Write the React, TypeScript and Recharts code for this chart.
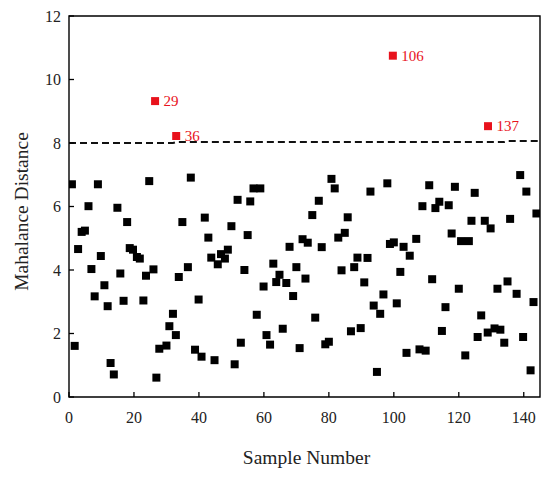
import { ScatterChart, Scatter, XAxis, YAxis, ZAxis, ReferenceArea, LabelList } from "recharts";

const FONT = "'Liberation Serif', 'Times New Roman', serif";

// sample positions and Mahalanobis distances
const sampleX = [
  0.9, 1.75, 2.8, 3.9, 4.9, 6.0, 6.9, 7.9, 8.9, 9.8, 10.9, 11.9, 12.8, 13.8, 14.9, 15.8,
  16.8, 17.9, 18.7, 19.7, 20.9, 21.8, 22.9, 23.7, 24.7, 26.0, 26.9, 27.8, 30.0, 30.9, 32.0,
  32.9, 33.8, 34.9, 36.6, 37.5, 38.8, 39.9, 40.8, 41.8, 42.9, 43.8, 44.8, 45.8, 46.8, 48.0,
  48.9, 50.0, 51.0, 51.9, 52.9, 54.0, 55.0, 55.8, 56.8, 57.8, 58.9, 59.9, 60.8, 61.9, 62.9,
  63.8, 64.8, 65.8, 66.9, 67.9, 69.0, 70.0, 71.0, 71.9, 72.8, 73.5, 74.9, 75.8, 76.9, 77.8,
  78.9, 80.0, 80.8, 81.8, 82.9, 83.9, 84.9, 85.8, 86.8, 87.8, 88.8, 89.8, 90.9, 91.9, 92.8,
  93.8, 94.8, 95.8, 96.8, 98.0, 98.8, 100.0, 100.9, 102.0, 103.0, 103.9, 104.9, 106.9, 107.9,
  108.8, 109.8, 110.9, 111.8, 112.8, 114.0, 114.8, 115.9, 116.9, 117.8, 118.8, 120.0, 120.7,
  122.0, 123.1, 123.9, 124.9, 125.8, 126.9, 128.0, 128.9, 129.8, 131.0, 131.9, 132.8, 134.0,
  135.0, 135.8, 137.8, 138.9, 139.8, 140.8, 142.1, 143.0, 143.9,
];
const distance = [
  6.7, 1.61, 4.66, 5.2, 5.24, 6.01, 4.03, 3.17, 6.7, 4.44, 3.52, 2.86, 1.07, 0.71, 5.96, 3.89,
  3.03, 5.51, 4.69, 4.64, 4.41, 4.36, 3.04, 3.82, 6.8, 4.02, 0.61, 1.52, 1.62, 2.23, 2.62,
  1.95, 3.78, 5.51, 4.09, 6.91, 1.49, 3.07, 1.27, 5.65, 5.02, 4.39, 1.16, 4.18, 4.5, 4.36,
  4.64, 5.38, 1.03, 6.21, 1.71, 4.0, 5.1, 6.16, 6.57, 2.59, 6.57, 3.48, 1.95, 1.65, 4.2,
  3.62, 3.85, 2.15, 3.59, 4.73, 3.18, 4.09, 1.54, 4.97, 3.73, 4.86, 5.73, 2.5, 6.18, 4.72,
  1.66, 1.74, 6.87, 6.57, 5.02, 3.99, 5.17, 5.66, 2.07, 4.09, 4.39, 2.17, 3.61, 4.38, 6.47,
  2.88, 0.79, 2.62, 3.23, 6.73, 4.82, 4.87, 2.95, 3.94, 4.73, 1.39, 4.45, 4.98, 1.5,
  6.01, 1.46, 6.67, 3.71, 5.95, 6.15, 2.08, 2.83, 6.04, 5.15, 6.62, 3.41, 4.91,
  1.31, 4.91, 5.55, 6.43, 1.89, 2.57, 5.55, 2.03, 5.31, 2.16, 3.41, 2.12, 1.71,
  3.64, 5.61, 3.25, 6.99, 1.89, 6.47, 0.84, 2.99, 5.78,
];

// outliers above the control limit
const outlierX = [26.5, 33.0, 99.7, 129.0];
const outlierY = [9.32, 8.22, 10.75, 8.53];
const outlierLabels = ["29", "36", "106", "137"];

// control limit (dashed)
const limitX = [0, 32, 33, 134, 135, 145];
const limitY = [8.0, 8.0, 8.03, 8.03, 8.06, 8.06];

const xTicks = [0, 20, 40, 60, 80, 100, 120, 140];
const yTicks = [0, 2, 4, 6, 8, 10, 12];

const points = sampleX.map((x, i) => ({ x, y: distance[i] }));
const outliers = outlierX.map((x, i) => ({ x, y: outlierY[i], label: outlierLabels[i] }));
const limit = limitX.map((x, i) => ({ x, y: limitY[i] }));

const X_MARGIN = 14;
const Y_MARGIN = 8;

function XTick({ x, y, payload }: any) {
  const axisY = y - X_MARGIN;
  return (
    <g>
      <line x1={x} x2={x} y1={axisY} y2={axisY - 5} stroke="#000" strokeWidth={1.3} />
      <text x={x} y={y} dy="0.72em" textAnchor="middle" fontSize={16} fontFamily={FONT} fill="#222">
        {payload.value}
      </text>
    </g>
  );
}

function YTick({ x, y, payload }: any) {
  const axisX = x + Y_MARGIN;
  return (
    <g>
      <line x1={axisX} x2={axisX + 5} y1={y} y2={y} stroke="#000" strokeWidth={1.3} />
      <text x={x} y={y} dy="0.35em" textAnchor="end" fontSize={16} fontFamily={FONT} fill="#222">
        {payload.value}
      </text>
    </g>
  );
}

function XTitle({ viewBox }: any) {
  return (
    <text
      x={viewBox.x + viewBox.width / 2 + 2}
      y={viewBox.y + 60}
      dominantBaseline="central"
      textAnchor="middle"
      fontSize={19.5}
      fontFamily={FONT}
      fill="#222"
    >
      Sample Number
    </text>
  );
}

function YTitle({ viewBox }: any) {
  const cx = viewBox.x + 21;
  const cy = viewBox.y + viewBox.height / 2 + 5;
  return (
    <text
      x={cx}
      y={cy}
      transform={`rotate(-90, ${cx}, ${cy})`}
      dominantBaseline="central"
      textAnchor="middle"
      fontSize={19.5}
      fontFamily={FONT}
      fill="#222"
    >
      Mahalance Distance
    </text>
  );
}

export default function App() {
  return (
    <div style={{ position: "absolute", left: 0, top: 0, background: "#fff" }}>
      <ScatterChart width={550} height={477} margin={{ top: 16, right: 10, bottom: 0, left: 0 }}>
        <XAxis
          type="number"
          dataKey="x"
          domain={[0, 145]}
          ticks={xTicks}
          allowDataOverflow
          height={80}
          tickSize={0}
          tickMargin={X_MARGIN}
          tickLine={false}
          axisLine={false}
          tick={<XTick />}
          label={XTitle}
        />
        <YAxis
          type="number"
          dataKey="y"
          domain={[0, 12]}
          ticks={yTicks}
          allowDataOverflow
          width={69}
          tickSize={0}
          tickMargin={Y_MARGIN}
          tickLine={false}
          axisLine={false}
          tick={<YTick />}
          label={YTitle}
        />
        <ZAxis type="number" range={[60, 60]} />
        <ReferenceArea x1={0} x2={145} y1={0} y2={12} fill="none" fillOpacity={0} stroke="#000" strokeWidth={1.4} />
        <Scatter
          data={limit}
          fill="#000"
          isAnimationActive={false}
          shape={() => <g />}
          line={{ stroke: "#111", strokeWidth: 2, strokeDasharray: "7 4" }}
          lineType="joint"
        />
        <Scatter data={points} fill="#000" shape="square" isAnimationActive={false} />
        <Scatter data={outliers} fill="#e8121c" shape="square" isAnimationActive={false}>
          <LabelList
            dataKey="label"
            position="right"
            offset={4}
            fill="#e8121c"
            fontSize={15}
            fontFamily={FONT}
          />
        </Scatter>
      </ScatterChart>
    </div>
  );
}
